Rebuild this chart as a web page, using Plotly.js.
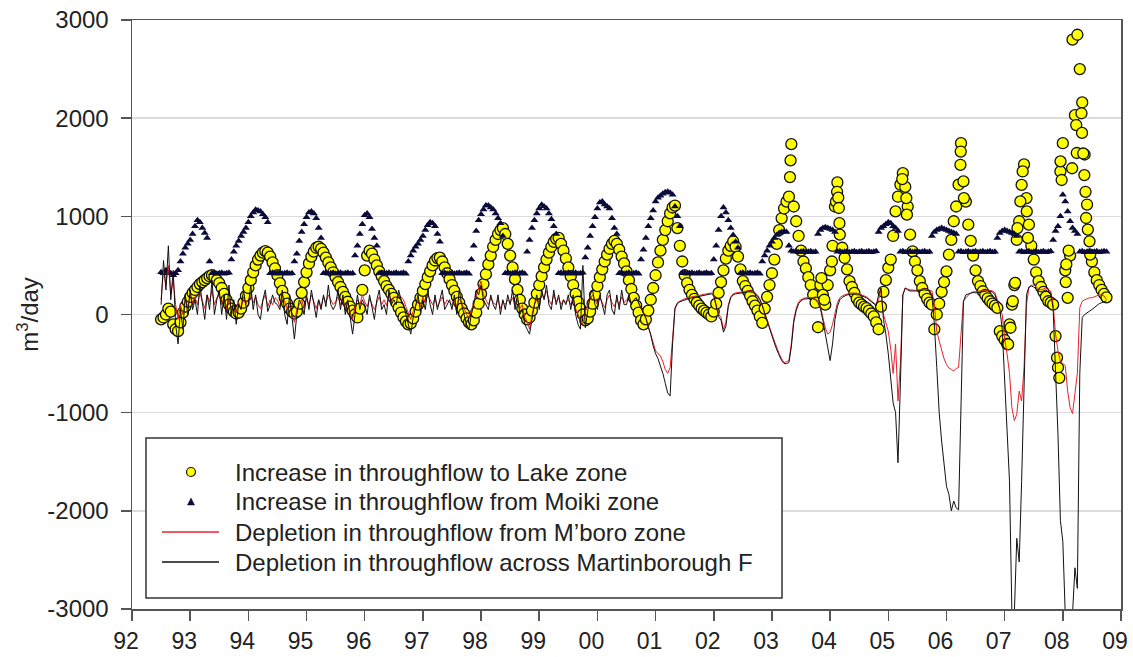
<!DOCTYPE html>
<html>
<head>
<meta charset="utf-8">
<script src="https://cdn.plot.ly/plotly-3.0.1.min.js"></script>
<style>
html,body{margin:0;padding:0;background:#fff;}
#chart{width:1133px;height:657px;}
</style>
</head>
<body>
<div id="chart"></div>
<script>
// Sampling: half-monthly values starting mid-1992
const startYear = 1992.5;
const stepYear = 1 / 24;

// Increase in throughflow to Lake zone (m3/day), one line per year starting at mid-year
const lake = [
  -50, -30, 0, 60, 30, -100, -150, -170, -80, 20, 80, 130, 180, 220, 250, 280, 310, 330, 350, 370, 390, 400, 380, 350,
  320, 270, 210, 150, 100, 60, 30, 10, 20, 60, 120, 190, 270, 350, 430, 500, 560, 600, 630, 645, 630, 590, 530, 470,
  400, 320, 240, 170, 110, 60, 30, 10, 30, 110, 220, 330, 430, 520, 590, 640, 680, 690, 670, 630, 580, 530, 480, 430,
  380, 330, 280, 230, 180, 130, 80, 40, 0, -30, 60, 250, 450, 600, 650, 620, 560, 500, 440, 390, 340, 290, 250, 210,
  170, 120, 70, 20, -30, -70, -100, -90, -40, 30, 100, 170, 240, 310, 380, 440, 500, 550, 575, 580, 540, 480, 420, 360,
  300, 240, 180, 120, 60, 10, -40, -80, -100, -60, 20, 110, 210, 310, 410, 510, 600, 690, 760, 820, 860, 880, 820, 720,
  600, 480, 360, 250, 150, 60, 0, -50, -30, 40, 120, 210, 300, 390, 480, 560, 630, 690, 740, 770, 780, 720, 650, 570,
  480, 390, 300, 210, 130, 60, 0, -60, -40, 30, 110, 200, 290, 380, 460, 540, 610, 670, 720, 750, 720, 660, 590, 520,
  440, 350, 260, 170, 90, 20, -60, -100, -50, 40, 150, 270, 400, 530, 650, 760, 860, 950, 1030, 1090, 1110, 880, 700, 540,
  400, 320, 250, 200, 160, 120, 90, 60, 40, 20, 0, -20, 30, 110, 220, 330, 450, 570, 650, 700, 745, 690, 590, 460,
  340, 290, 240, 190, 135, 90, 40, -20, -85, 60, 180, 300, 420, 560, 720, 860, 980, 1080, 1150, 1200, 1735, 1100, 950, 800,
  650, 540, 470, 380, 300, 200, 120, -130, 300, 200, 100, 300, 450, 700, 1100, 1345, 813, 680, 576, 460, 340, 280, 220, 160,
  120, 100, 80, 65, 40, 10, -20, -80, -150, 80, 230, 350, 475, 560, 800, 1050, 1200, 1322, 1440, 1300, 1100, 813, 644, 540,
  450, 340, 270, 210, 160, 120, 100, -150, 0, 110, 230, 330, 440, 610, 760, 950, 1100, 1322, 1745, 1356, 1150, 915, 750, 600,
  450, 340, 290, 237, 200, 165, 135, 110, 90, 68, -170, -220, -260, -300, -100, 100, 300, 760, 950, 1320, 1530, 1186, 915, 700,
  560, 430, 340, 280, 230, 180, 135, 120, 100, -220, -540, 1457, 1745, 450, 170, 600, 2800, 2030, 2850, 2500, 2160, 1630, 1120, 745,
  540, 430, 350, 300, 250, 210, 175
];
// additional Lake-zone values recorded between the half-monthly dates
const lakeExtraX = [2003.31, 2003.32, 2003.85, 2003.90, 2004.03, 2004.10, 2004.12, 2004.14, 2004.15, 2004.16, 2005.24, 2005.31, 2005.32, 2006.24, 2006.245, 2006.30, 2007.06, 2007.10, 2007.14, 2007.18, 2007.22, 2007.27, 2007.31, 2007.38, 2007.40, 2007.90, 2007.94, 2007.96, 2007.98, 2008.05, 2008.06, 2008.10, 2008.16, 2008.23, 2008.24, 2008.32, 2008.33, 2008.35, 2008.37, 2008.39, 2008.40, 2008.43, 2008.47];
const lakeExtraY = [1400, 1570, 370, 150, 540, 1150, 1250, 1190, 1085, 930, 1380, 1186, 1017, 1525, 1660, 1186, -305, -135, 135, 322, 880, 1152, 1457, 1050, 780, -440, -645, 1560, 1370, 330, 510, 650, 1490, 1930, 1645, 2050, 1850, 1640, 1420, 1250, 983, 865, 610];

// Increase in throughflow from Moiki zone
const moiki = [
  430, 420, 450, 430, 420, 400, 420, 450, 540, 620, 680, 720, 760, 820, 900, 960, 940, 880, 830, 780, 540, 420, 425, 415,
  420, 425, 415, 420, 425, 560, 640, 700, 750, 800, 840, 880, 940, 1000, 1040, 1068, 1060, 1050, 1020, 990, 940, 420, 425, 415,
  420, 425, 415, 420, 425, 415, 420, 540, 620, 750, 840, 920, 990, 1040, 1050, 1030, 980, 880, 780, 420, 425, 415, 420, 425,
  415, 420, 425, 415, 420, 425, 415, 420, 600, 700, 820, 920, 1010, 1030, 990, 870, 780, 700, 420, 425, 415, 420, 425, 415,
  420, 425, 415, 420, 425, 415, 540, 600, 650, 690, 720, 760, 800, 860, 910, 940, 930, 900, 820, 740, 420, 425, 415, 420,
  425, 415, 420, 425, 415, 420, 425, 415, 560, 700, 850, 960, 1020, 1070, 1110, 1110, 1090, 1070, 1030, 980, 930, 800, 420, 425,
  415, 420, 425, 415, 420, 425, 415, 640, 760, 880, 960, 1030, 1080, 1118, 1100, 1080, 1030, 970, 900, 820, 420, 425, 415, 420,
  425, 415, 420, 425, 415, 420, 425, 580, 680, 800, 900, 990, 1080, 1140, 1150, 1120, 1100, 1080, 980, 880, 820, 420, 425, 415,
  420, 425, 415, 420, 425, 415, 560, 660, 780, 900, 980, 1060, 1150, 1190, 1210, 1230, 1245, 1250, 1240, 1220, 1100, 1000, 900, 420,
  425, 415, 420, 425, 415, 420, 425, 415, 420, 425, 415, 420, 560, 700, 860, 1000, 1090, 1040, 960, 880, 810, 740, 680, 420,
  425, 415, 420, 425, 415, 420, 425, 415, 540, 600, 650, 700, 740, 780, 810, 830, 840, 845, 840, 700, 650, 640, 645, 635,
  640, 645, 635, 640, 645, 635, 640, 820, 860, 880, 890, 880, 870, 860, 840, 640, 645, 635, 640, 645, 635, 640, 645, 635,
  640, 645, 635, 640, 645, 635, 640, 645, 840, 880, 900, 920, 940, 930, 900, 880, 850, 640, 645, 635, 640, 645, 635, 640,
  645, 635, 640, 645, 635, 640, 800, 840, 860, 870, 880, 870, 860, 850, 840, 830, 820, 640, 645, 635, 640, 645, 635, 640,
  645, 635, 640, 645, 635, 640, 645, 635, 640, 780, 830, 850, 860, 850, 840, 830, 820, 800, 640, 645, 635, 640, 645, 635,
  640, 645, 635, 640, 645, 635, 640, 645, 760, 850, 900, 1000, 1220, 1150, 1050, 950, 880, 850, 820, 640, 645, 635, 640, 645,
  635, 640, 645, 635, 640, 645, 640
];

// Depletion in throughflow from M'boro zone
const mboro = [
  150, 450, 300, 500, 200, 350, 100, -50, 100, 0, 150, 80, 200, 120, 180, 100, 220, 150, 60, 200, 130, 250, 100, 170,
  200, 100, 180, 60, 150, 50, 100, 20, 120, 60, 180, 100, 150, 200, 120, 180, 100, 60, 140, 200, 80, 150, 100, 170,
  150, 80, 200, 120, 60, 130, 0, -80, 50, 100, 150, 60, 170, 100, 200, 130, 60, 150, 80, 180, 120, 200, 150, 100,
  130, 180, 100, 150, 60, 120, 20, -50, 80, 150, 100, 200, 130, 80, 160, 100, 50, 120, 180, 100, 150, 90, 200, 130,
  180, 170, 200, 180, 150, 80, 20, -50, 30, 100, 150, 80, 180, 120, 200, 150, 100, 160, 80, 130, 180, 100, 150, 120,
  100, 150, 80, 160, 120, 60, 0, -30, 40, 120, 180, 250, 340, 200, 150, 100, 170, 120, 100, 150, 60, 130, 100, 150,
  120, 170, 100, 150, 60, 100, -30, -70, -150, 0, 100, 150, 120, 200, 170, 240, 150, 100, 200, 130, 170, 100, 150, 120,
  150, 100, 160, 60, 0, -50, -100, 30, 100, 150, 200, 150, 100, 170, 120, 70, 150, 200, 120, 80, 150, 100, 180, 120,
  150, 170, 120, 150, 170, 120, 60, 20, -30, -120, -200, -300, -370, -400, -420, -480, -560, -600, -540, -250, 70, 120, 140, 150,
  160, 170, 175, 180, 185, 190, 200, 205, 210, 210, 215, 220, 200, 100, 0, -30, -150, -80, 100, 180, 210, 220, 225, 230,
  230, 235, 240, 240, 235, 220, 200, 160, 100, 20, -60, -135, -200, -270, -340, -400, -450, -490, -480, -470, -300, -50, 60, 130,
  150, 165, 170, 175, 175, 170, 160, 135, 80, -30, -135, -200, -180, -100, 20, 120, 170, 190, 200, 210, 215, 220, 220, 215,
  210, 200, 190, 180, 160, 140, 120, 100, 150, 250, 0, -100, -170, -350, -600, -300, -880, -500, 200, 270, 260, 250, 250, 245,
  250, 255, 260, 260, 255, 250, 240, 100, -170, -270, -370, -450, -510, -545, -560, -575, -550, -540, -200, 135, 170, 200, 220, 230,
  230, 235, 240, 245, 250, 250, 245, 240, 220, 150, 50, 0, -250, -400, -600, -950, -1080, -1017, -780, -880, -540, 100, 270, 300,
  300, 280, 260, 250, 260, 270, 250, 240, 100, -200, -370, -475, -500, -520, -780, -950, -1010, -810, -600, 68, 135, 150, 160, 170,
  170, 180, 190, 200, 195, 190, 150
];

// Depletion in throughflow across Martinborough Fault
const martin = [
  100, 550, 250, 700, 150, 450, -100, -300, 50, -150, 200, 0, 250, 50, 150, 0, 300, 100, -50, 200, 50, 350, 0, 150,
  250, 0, 200, -50, 300, 0, 150, -100, 100, 50, 250, 80, 100, 300, 50, 200, 0, -50, 150, 250, 30, 100, 200, 120,
  100, 50, 250, 0, -100, 200, -50, -250, 0, 150, 100, 0, 200, 50, 250, 100, -30, 150, 50, 200, 80, 300, 100, 50,
  100, 250, 50, 200, 0, 150, -50, -200, 0, 200, 50, 150, 100, 0, 200, 80, -50, 150, 250, 50, 100, 0, 250, 100,
  150, 100, 250, 150, 100, 0, -100, -200, -30, 100, 200, 30, 150, 50, 250, 100, 0, 200, 50, 150, 250, 50, 100, 150,
  50, 200, 0, 250, 100, 0, -100, -150, 0, 100, 250, 200, 300, 150, 100, 50, 200, 100, 50, 200, 0, 150, 50, 200,
  100, 250, 50, 200, 0, 50, -100, -150, -200, -50, 100, 200, 50, 250, 150, 300, 100, 50, 250, 100, 200, 50, 150, 100,
  200, 50, 200, 0, -100, -150, 500, -135, 50, 200, 250, 100, 50, 200, 100, 0, 200, 250, 50, 0, 200, 50, 250, 100,
  100, 200, 100, 150, 170, 120, 60, 10, -40, -130, -210, -320, -400, -450, -520, -600, -700, -800, -830, -300, 60, 110, 130, 140,
  150, 160, 165, 170, 175, 180, 190, 195, 200, 200, 205, 210, 190, 80, -20, -60, -180, -120, 80, 170, 200, 210, 215, 220,
  220, 225, 230, 230, 225, 210, 190, 150, 90, 10, -70, -150, -220, -290, -360, -420, -470, -500, -500, -490, -330, -80, 40, 110,
  140, 155, 160, 165, 165, 160, 150, 120, 60, -60, -200, -330, -470, -300, -50, 80, 150, 175, 190, 200, 205, 210, 210, 200,
  200, 190, 180, 170, 150, 130, 110, 90, 200, 270, -50, -200, -400, -650, -900, -1000, -1510, -700, 200, 270, 250, 240, 240, 235,
  240, 245, 250, 250, 245, 240, 200, -100, -540, -1000, -1290, -1520, -1750, -1830, -2000, -1900, -1970, -1990, -1000, 135, 200, 210, 220, 225,
  220, 225, 230, 235, 240, 240, 235, 230, 200, 120, 60, -150, -700, -1220, -1700, -3050, -3050, -2280, -2520, -1700, -675, 200, 280, 290,
  280, 260, 240, 230, 240, 250, 230, 220, 60, -540, -1220, -2100, -2310, -3050, -3050, -3050, -3050, -2580, -2790, -600, -30, 0, 20, 34,
  50, 70, 90, 110, 120, 130, 140
];

const xTickVals = [1992, 1993, 1994, 1995, 1996, 1997, 1998, 1999, 2000, 2001, 2002, 2003, 2004, 2005, 2006, 2007, 2008, 2009];
const xTickText = ['92', '93', '94', '95', '96', '97', '98', '99', '00', '01', '02', '03', '04', '05', '06', '07', '08', '09'];
const yTickVals = [-3000, -2000, -1000, 0, 1000, 2000, 3000];
const yTickText = ['-3000', '-2000', '-1000', '0', '1000', '2000', '3000'];
const seriesNames = [
  'Increase in throughflow to Lake zone',
  'Increase in throughflow from Moiki zone',
  'Depletion in throughflow from M\u2019boro zone',
  'Depletion in throughflow across Martinborough F'
];

const timeOf = (i) => startYear + i * stepYear;
const times = (arr) => arr.map((_, i) => timeOf(i));

const YELLOW = '#ffff00', NAVY = '#0b0b3a', RED = '#e8212b', BLACK = '#111111';

const traces = [
  {
    type: 'scatter', mode: 'markers', name: seriesNames[0], showlegend: false,
    x: times(lake).concat(lakeExtraX), y: lake.concat(lakeExtraY),
    marker: {symbol: 'circle', size: 11, color: YELLOW, line: {color: '#111', width: 1.3}}
  },
  {
    type: 'scatter', mode: 'markers', name: seriesNames[1], showlegend: false,
    x: times(moiki), y: moiki,
    marker: {symbol: 'triangle-up', size: 7, color: NAVY, line: {width: 0}}
  },
  {
    type: 'scatter', mode: 'lines', name: seriesNames[2], showlegend: false,
    x: times(mboro), y: mboro,
    line: {color: RED, width: 1}
  },
  {
    type: 'scatter', mode: 'lines', name: seriesNames[3], showlegend: false,
    x: times(martin), y: martin,
    line: {color: BLACK, width: 1}
  }
];

const W = 1133, H = 657, ML = 132, MR = 12, MT = 20, MB = 48;
const pw = W - ML - MR, ph = H - MT - MB;
const fontFam = 'Liberation Sans, Arial, Helvetica, sans-serif';
// pixel -> paper helpers for the legend box layout
const px = (v) => (v - ML) / pw;
const py = (v) => (H - MB - v) / ph;

// legend (drawn as a boxed key: text + sample glyphs)
const keyRows = [472, 502, 532, 562];
const keyTextX = 233, keySymX = 191;
const shapes = [{
  type: 'rect', xref: 'paper', yref: 'paper', layer: 'above',
  x0: px(146), x1: px(782), y0: py(598), y1: py(438),
  fillcolor: '#ffffff', line: {color: '#333', width: 1.5}
}, {
  type: 'circle', xref: 'paper', yref: 'paper', layer: 'above',
  x0: px(keySymX - 4.5), x1: px(keySymX + 4.5), y0: py(keyRows[0] + 4.5), y1: py(keyRows[0] - 4.5),
  fillcolor: YELLOW, line: {color: '#111', width: 1.2}
}, {
  type: 'path', xref: 'paper', yref: 'paper', layer: 'above',
  path: 'M' + px(keySymX - 3.5) + ',' + py(keyRows[1] + 3) + ' L' + px(keySymX + 3.5) + ',' + py(keyRows[1] + 3) +
        ' L' + px(keySymX) + ',' + py(keyRows[1] - 4) + ' Z',
  fillcolor: NAVY, line: {color: NAVY, width: 0.5}
}, {
  type: 'line', xref: 'paper', yref: 'paper', layer: 'above',
  x0: px(162), x1: px(219), y0: py(keyRows[2]), y1: py(keyRows[2]),
  line: {color: RED, width: 1.5}
}, {
  type: 'line', xref: 'paper', yref: 'paper', layer: 'above',
  x0: px(162), x1: px(219), y0: py(keyRows[3]), y1: py(keyRows[3]),
  line: {color: BLACK, width: 1.5}
}];
const annotations = seriesNames.map((name, k) => ({
  xref: 'paper', yref: 'paper', x: px(keyTextX), y: py(keyRows[k]),
  xanchor: 'left', yanchor: 'middle', showarrow: false, text: name,
  font: {family: fontFam, size: 24, color: '#222'}
}));

const layout = {
  width: W, height: H,
  margin: {l: ML, r: MR, t: MT, b: MB, pad: 0},
  paper_bgcolor: '#ffffff', plot_bgcolor: '#ffffff',
  font: {family: fontFam, color: '#222', size: 24},
  showlegend: false,
  xaxis: {
    range: [1992, 2009], tickmode: 'array', tickvals: xTickVals, ticktext: xTickText,
    ticks: 'outside', ticklen: 10, tickwidth: 1.5, tickcolor: '#555',
    showline: true, linecolor: '#555', linewidth: 1.5, mirror: true,
    showgrid: false, zeroline: false, ticklabelstandoff: 1, ticklabelshift: -6,
    tickfont: {family: fontFam, size: 23, color: '#222'}
  },
  yaxis: {
    range: [-3000, 3000], tickmode: 'array', tickvals: yTickVals, ticktext: yTickText,
    ticks: 'outside', ticklen: 10, tickwidth: 1.5, tickcolor: '#555',
    showline: true, linecolor: '#555', linewidth: 1.5, mirror: true,
    showgrid: true, gridcolor: '#dcdcdc', gridwidth: 1.5, zeroline: false, ticklabelstandoff: 7,
    tickfont: {family: fontFam, size: 24, color: '#222'},
    title: {text: 'm<sup>3</sup>/day', font: {family: fontFam, size: 24, color: '#222'}, standoff: 2}
  },
  shapes: shapes,
  annotations: annotations,
  hovermode: false
};

Plotly.newPlot('chart', traces, layout, {staticPlot: true, displayModeBar: false});
</script>
</body>
</html>
